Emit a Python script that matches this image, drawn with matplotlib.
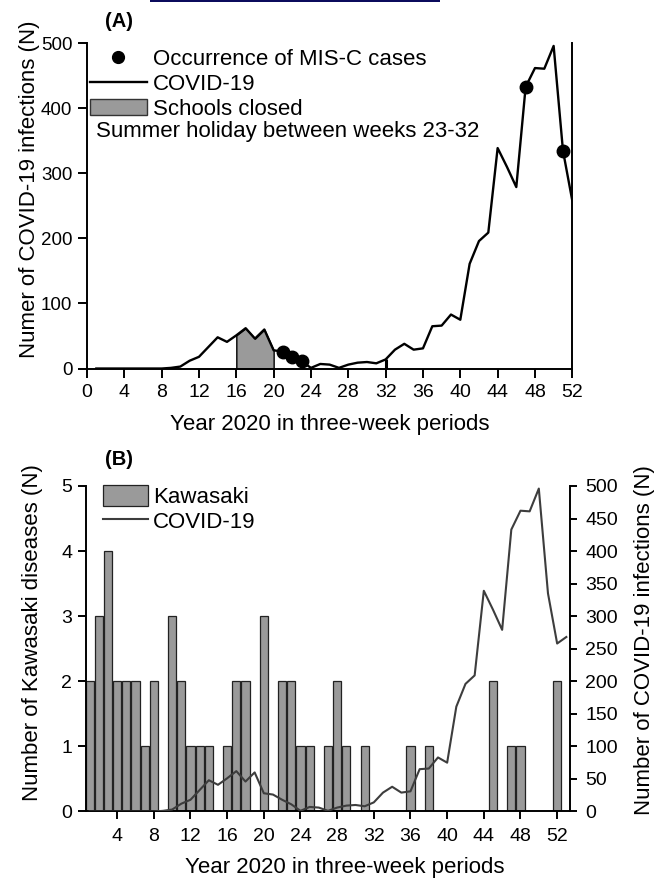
import matplotlib
matplotlib.use('Agg')
import matplotlib.pyplot as plt
from matplotlib.lines import Line2D
from matplotlib.patches import Patch, Rectangle
import numpy as np

plt.rcParams['font.family'] = ['Liberation Sans', 'DejaVu Sans']

# ---------------- data ----------------
weeks = list(range(1, 54))
covid = [0, 0, 0, 0, 0, 0, 0, 0, 1, 3, 12, 18, 33, 48, 41, 51, 62, 46, 60, 28,
         26, 18, 11, 1, 7, 6, 1, 6, 9, 10, 8, 14, 29, 38, 29, 31, 65, 66, 83, 75,
         161, 196, 209, 339, 310, 279, 433, 462, 461, 496, 335, 258, 268]
kawasaki = [2, 3, 4, 2, 2, 2, 1, 2, 0, 3, 2, 1, 1, 1, 0, 1, 2, 2, 0, 3,
            0, 2, 2, 1, 1, 0, 1, 2, 1, 0, 1, 0, 0, 0, 0, 1, 0, 1, 0, 0,
            0, 0, 0, 0, 2, 0, 1, 1, 0, 0, 0, 2, 0]
misc_weeks = [21, 22, 23, 47, 51]
school_closed = (16, 20)
summer_holiday = (23, 32)
xticks_a = list(range(0, 53, 4))
yticks_a = list(range(0, 501, 100))
xticks_b = list(range(4, 53, 4))
yticks_b = list(range(0, 6))
yticks_b2 = list(range(0, 501, 50))

GRAY = '#9a9a9a'
wk = np.array(weeks)
cv = np.array(covid)

fig = plt.figure(figsize=(6.62, 8.81), dpi=100)

# decorative navy rule at the very top
fig.add_artist(Rectangle((150 / 662, 1 - 2 / 881), 290 / 662, 2 / 881,
                         transform=fig.transFigure, color='#0b0b5c', lw=0))

# ---------------- panel A ----------------
axA = fig.add_axes([0.1314, 0.5817, 0.7331, 0.3691])
line_a, = axA.plot(wk, cv, color='black', lw=1.7, zorder=3)
mask = (wk >= school_closed[0]) & (wk <= school_closed[1])
axA.fill_between(wk[mask], 0, cv[mask], facecolor=GRAY, edgecolor='black',
                 lw=1.0, zorder=2)
axA.vlines(summer_holiday, 0, [cv[w - 1] for w in summer_holiday],
           colors='black', lw=2.2, zorder=3)
axA.plot(misc_weeks, [cv[w - 1] for w in misc_weeks], 'o', color='black',
         ms=9, zorder=4)

axA.set_xlim(0, 52)
axA.set_ylim(0, 500)
axA.set_xticks(xticks_a)
axA.set_yticks(yticks_a)
axA.spines['top'].set_visible(False)
for s in ('left', 'bottom', 'right'):
    axA.spines[s].set_linewidth(1.4)
axA.tick_params(axis='both', direction='out', length=6.5, width=1.4,
                labelsize=14, right=False, top=False)
axA.tick_params(axis='x', pad=4.5)
axA.tick_params(axis='y', pad=4, labelsize=13.5)
axA.set_ylabel('Numer of COVID-19 infections (N)', fontsize=16)
axA.yaxis.set_label_coords(-0.0968, 0.552)
axA.set_xlabel('Year 2020 in three-week periods', fontsize=16)
axA.xaxis.set_label_coords(0.5, -0.14)

hA = [Line2D([], [], marker='o', ls='none', color='black', ms=8.5),
      Line2D([], [], color='black', lw=1.7),
      Patch(facecolor=GRAY, edgecolor='#333333', lw=1.0)]
axA.legend(hA, ['Occurrence of MIS-C cases', 'COVID-19', 'Schools closed'],
           loc='upper left', bbox_to_anchor=(0.006, 0.984), frameon=False,
           fontsize=16, borderpad=0, borderaxespad=0, handlelength=2.57,
           handletextpad=0.27, handleheight=0.72, labelspacing=0.19,
           numpoints=1)
axA.text(0.0185, 0.728, 'Summer holiday between weeks 23-32',
         transform=axA.transAxes, fontsize=16, va='center', ha='left')

fig.text(105 / 662, 0.9756, '(A)', fontsize=14.5, fontweight='bold',
         va='center', ha='left')

# ---------------- panel B ----------------
axB = fig.add_axes([0.1299, 0.0789, 0.7311, 0.3695])
bars = axB.bar(wk, kawasaki, width=0.9, color=GRAY, edgecolor='#222222',
               lw=0.9, zorder=2)
ax2 = axB.twinx()
line_b, = ax2.plot(wk, cv, color='#3d3d3d', lw=1.5)

axB.set_xlim(0.6, 53.4)
axB.set_ylim(0, 5)
ax2.set_ylim(0, 500)
axB.set_xticks(xticks_b)
axB.set_yticks(yticks_b)
ax2.set_yticks(yticks_b2)
for a in (axB, ax2):
    a.spines['top'].set_visible(False)
axB.spines['right'].set_visible(False)
ax2.spines['left'].set_visible(False)
ax2.spines['bottom'].set_visible(False)
for s in ('left', 'bottom'):
    axB.spines[s].set_linewidth(1.4)
ax2.spines['right'].set_linewidth(1.4)
axB.tick_params(axis='both', direction='out', length=6, width=1.4,
                labelsize=14, right=False, top=False)
axB.tick_params(axis='x', pad=6)
axB.tick_params(axis='y', pad=4)
ax2.tick_params(axis='y', direction='out', length=5, width=1.4,
                labelsize=14, pad=6)

axB.set_ylabel('Number of Kawasaki diseases (N)', fontsize=16)
axB.yaxis.set_label_coords(-0.0888, 0.551)
ax2.set_ylabel('Number of COVID-19 infections (N)', fontsize=16)
ax2.yaxis.set_label_coords(1.132, 0.526)
axB.set_xlabel('Year 2020 in three-week periods', fontsize=16)
axB.xaxis.set_label_coords(0.534, -0.14)

ax2.legend([bars.patches[0], line_b], ['Kawasaki', 'COVID-19'],
           loc='upper left', bbox_to_anchor=(0.0345, 1.003), frameon=False,
           fontsize=16, borderpad=0, borderaxespad=0, handlelength=2.05,
           handletextpad=0.2, handleheight=1.1, labelspacing=0.08)

fig.text(105 / 662, 0.4779, '(B)', fontsize=14.5, fontweight='bold',
         va='center', ha='left')

fig.savefig('out.png', dpi=100)
